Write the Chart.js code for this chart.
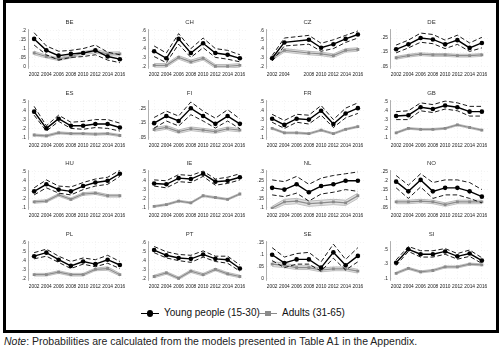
<!DOCTYPE html>
<html><head><meta charset="utf-8">
<script src="https://cdn.jsdelivr.net/npm/chart.js@4/dist/chart.umd.min.js"></script>
<style>
body{margin:0;background:#fff;width:500px;height:350px;position:relative;overflow:hidden;font-family:'Liberation Sans',Arial,sans-serif;}
#frame{position:absolute;left:3px;top:0;width:490px;height:327px;border:3px solid #000;}
canvas{position:absolute;}
.leg{position:absolute;top:306px;font-size:10px;color:#111;line-height:14px;white-space:nowrap;}
.sym{position:absolute;top:7px;height:0;border-top:1.5px solid #000;width:18px;}
.dot{position:absolute;top:-3.8px;left:5.5px;width:6.5px;height:6.5px;border-radius:50%;background:#000;}
.sq{position:absolute;top:-3.2px;left:6px;width:5.5px;height:5.5px;background:#8a8a8a;}
#note{position:absolute;left:4px;top:335px;font-size:10.5px;color:#222;white-space:nowrap;}
</style></head>
<body>
<div id="frame"></div>
<div class="leg" style="left:141px"><span class="sym" style="left:0"><span class="dot"></span></span><span style="position:absolute;left:23px">Young people (15-30)</span></div>
<div class="leg" style="left:259px"><span class="sym" style="left:0;border-top-color:#8a8a8a"><span class="sq"></span></span><span style="position:absolute;left:23px">Adults (31-65)</span></div>
<div id="note"><i>Note</i>: Probabilities are calculated from the models presented in Table A1 in the Appendix.</div>
<script>
const years = ['2002','2004','2006','2008','2010','2012','2014','2016'];
const yearsCZ = ['2002','2004','','2008','2010','2012','2014','2016'];

const BE_ticks = [0,.05,.1,.15,.2];
const BE_young = [.155,.09,.06,.07,.075,.09,.055,.04];
const BE_youngHi = [.19,.115,.085,.09,.1,.12,.08,.065];
const BE_youngLo = [.12,.065,.035,.05,.055,.065,.035,.02];
const BE_adult = [.075,.055,.04,.055,.075,.085,.07,.07];
const BE_adultHi = [.085,.063,.048,.064,.084,.095,.08,.082];
const BE_adultLo = [.065,.047,.032,.046,.066,.075,.06,.058];

const CH_ticks = [.2,.3,.4,.5,.6];
const CH_young = [.37,.29,.51,.35,.46,.35,.33,.29];
const CH_youngHi = [.43,.35,.57,.40,.52,.40,.38,.33];
const CH_youngLo = [.31,.24,.45,.30,.41,.30,.28,.25];
const CH_adult = [.21,.21,.30,.25,.29,.20,.20,.21];
const CH_adultHi = [.23,.23,.32,.27,.31,.22,.22,.23];
const CH_adultLo = [.19,.19,.28,.23,.27,.18,.18,.19];

const CZ_ticks = [.2,.3,.4,.5,.6];
const CZ_young = [.29,.47,null,.50,.41,.45,.51,.56];
const CZ_youngHi = [.32,.52,null,.55,.46,.50,.55,.60];
const CZ_youngLo = [.26,.43,null,.45,.37,.40,.47,.52];
const CZ_adult = [.29,.38,null,.35,.34,.32,.38,.39];
const CZ_adultHi = [.31,.40,null,.37,.36,.34,.40,.41];
const CZ_adultLo = [.27,.36,null,.33,.32,.30,.36,.37];

const DE_ticks = [.05,.1,.15,.2,.25,.3];
const DE_young = [.17,.205,.25,.24,.205,.235,.18,.215];
const DE_youngHi = [.20,.235,.285,.275,.235,.27,.215,.255];
const DE_youngLo = [.145,.18,.22,.21,.175,.205,.155,.18];
const DE_adult = [.11,.125,.135,.13,.13,.125,.125,.13];
const DE_adultHi = [.12,.135,.145,.14,.14,.135,.135,.14];
const DE_adultLo = [.10,.115,.125,.12,.12,.115,.115,.12];

const ES_ticks = [.1,.2,.3,.4,.5];
const ES_young = [.39,.20,.31,.23,.23,.25,.25,.21];
const ES_youngHi = [.45,.23,.35,.27,.28,.30,.30,.26];
const ES_youngLo = [.35,.17,.28,.20,.19,.21,.20,.17];
const ES_adult = [.125,.115,.15,.14,.14,.135,.14,.12];
const ES_adultHi = [.137,.127,.162,.152,.152,.147,.152,.132];
const ES_adultLo = [.113,.103,.138,.128,.128,.123,.128,.108];

const FI_ticks = [.05,.1,.15,.2,.25,.3];
const FI_young = [.15,.20,.165,.255,.20,.145,.20,.145];
const FI_youngHi = [.19,.235,.20,.30,.235,.185,.245,.18];
const FI_youngLo = [.115,.165,.13,.21,.165,.115,.165,.11];
const FI_adult = [.105,.12,.09,.11,.10,.09,.11,.10];
const FI_adultHi = [.118,.133,.102,.123,.113,.102,.123,.112];
const FI_adultLo = [.092,.107,.078,.097,.087,.078,.097,.088];

const FR_ticks = [.1,.2,.3,.4,.5];
const FR_young = [.31,.24,.31,.30,.40,.25,.37,.43];
const FR_youngHi = [.36,.29,.36,.35,.46,.30,.43,.49];
const FR_youngLo = [.27,.20,.27,.25,.35,.21,.32,.37];
const FR_adult = [.20,.15,.15,.14,.18,.14,.19,.22];
const FR_adultHi = [.21,.16,.16,.15,.19,.15,.20,.23];
const FR_adultLo = [.19,.14,.14,.13,.17,.13,.18,.21];

const GB_ticks = [.1,.2,.3,.4,.5];
const GB_young = [.34,.35,.44,.42,.46,.44,.39,.39];
const GB_youngHi = [.39,.40,.49,.47,.51,.49,.45,.45];
const GB_youngLo = [.30,.30,.40,.38,.42,.40,.34,.34];
const GB_adult = [.15,.20,.19,.19,.20,.24,.21,.18];
const GB_adultHi = [.16,.21,.20,.20,.21,.25,.22,.19];
const GB_adultLo = [.14,.19,.18,.18,.19,.23,.20,.17];

const HU_ticks = [.1,.2,.3,.4,.5];
const HU_young = [.28,.36,.30,.28,.34,.38,.40,.48];
const HU_youngHi = [.32,.41,.34,.33,.38,.42,.44,.52];
const HU_youngLo = [.24,.32,.26,.24,.30,.34,.36,.45];
const HU_adult = [.16,.17,.24,.19,.25,.26,.23,.23];
const HU_adultHi = [.175,.185,.255,.205,.265,.275,.245,.245];
const HU_adultLo = [.145,.155,.225,.175,.235,.245,.215,.215];

const IE_ticks = [.1,.2,.3,.4,.5];
const IE_young = [.37,.36,.43,.42,.48,.39,.40,.44];
const IE_youngHi = [.41,.40,.47,.46,.51,.42,.44,.48];
const IE_youngLo = [.34,.32,.39,.38,.45,.35,.37,.41];
const IE_adult = [.11,.13,.17,.15,.23,.21,.19,.25];
const IE_adultHi = [.12,.14,.18,.16,.24,.22,.20,.26];
const IE_adultLo = [.10,.12,.16,.14,.22,.20,.18,.24];

const NL_ticks = [.1,.15,.2,.25,.3];
const NL_young = [.21,.20,.23,.185,.22,.23,.25,.25];
const NL_youngHi = [.255,.245,.275,.23,.265,.28,.29,.30];
const NL_youngLo = [.17,.16,.18,.135,.175,.185,.20,.19];
const NL_adult = [.095,.13,.135,.12,.125,.13,.125,.165];
const NL_adultHi = [.105,.145,.15,.135,.14,.145,.14,.18];
const NL_adultLo = [.085,.115,.12,.105,.11,.115,.11,.15];

const NO_ticks = [.05,.1,.15,.2,.25];
const NO_young = [.195,.14,.205,.14,.16,.16,.14,.11];
const NO_youngHi = [.23,.175,.24,.19,.205,.205,.19,.15];
const NO_youngLo = [.16,.10,.165,.10,.12,.12,.10,.075];
const NO_adult = [.08,.08,.085,.08,.065,.08,.08,.08];
const NO_adultHi = [.09,.09,.095,.09,.075,.09,.09,.09];
const NO_adultLo = [.07,.07,.075,.07,.055,.07,.07,.07];

const PL_ticks = [.2,.3,.4,.5,.6];
const PL_young = [.45,.49,.41,.34,.39,.36,.41,.35];
const PL_youngHi = [.49,.53,.45,.39,.43,.41,.46,.39];
const PL_youngLo = [.42,.45,.38,.31,.36,.33,.37,.31];
const PL_adult = [.24,.24,.27,.24,.24,.30,.31,.24];
const PL_adultHi = [.255,.255,.285,.255,.255,.315,.33,.255];
const PL_adultLo = [.225,.225,.255,.225,.225,.285,.29,.225];

const PT_ticks = [.2,.3,.4,.5,.6];
const PT_young = [.52,.46,.43,.42,.47,.42,.41,.31];
const PT_youngHi = [.56,.50,.47,.46,.51,.45,.45,.35];
const PT_youngLo = [.49,.43,.40,.38,.44,.39,.37,.28];
const PT_adult = [.22,.26,.20,.28,.24,.30,.25,.22];
const PT_adultHi = [.235,.275,.215,.295,.255,.315,.265,.235];
const PT_adultLo = [.205,.245,.185,.265,.225,.285,.235,.205];

const SE_ticks = [0,.05,.1,.15];
const SE_young = [.10,.065,.08,.08,.045,.11,.055,.095];
const SE_youngHi = [.13,.09,.105,.11,.07,.145,.08,.13];
const SE_youngLo = [.075,.045,.06,.06,.03,.085,.035,.07];
const SE_adult = [.06,.055,.045,.045,.035,.04,.04,.03];
const SE_adultHi = [.07,.065,.053,.053,.043,.048,.048,.038];
const SE_adultLo = [.05,.045,.037,.037,.027,.032,.032,.022];

const SI_ticks = [.1,.2,.3,.4,.5,.6];
const SI_young = [.32,.51,.44,.44,.48,.41,.45,.35];
const SI_youngHi = [.36,.55,.49,.49,.52,.45,.50,.39];
const SI_youngLo = [.28,.48,.40,.40,.44,.37,.41,.31];
const SI_adult = [.17,.24,.19,.21,.26,.26,.30,.29];
const SI_adultHi = [.185,.255,.205,.225,.275,.275,.315,.305];
const SI_adultLo = [.155,.225,.175,.195,.245,.245,.285,.275];

const panels = [
  ['BE',years,BE_ticks,BE_young,BE_youngHi,BE_youngLo,BE_adult,BE_adultHi,BE_adultLo],
  ['CH',years,CH_ticks,CH_young,CH_youngHi,CH_youngLo,CH_adult,CH_adultHi,CH_adultLo],
  ['CZ',yearsCZ,CZ_ticks,CZ_young,CZ_youngHi,CZ_youngLo,CZ_adult,CZ_adultHi,CZ_adultLo],
  ['DE',years,DE_ticks,DE_young,DE_youngHi,DE_youngLo,DE_adult,DE_adultHi,DE_adultLo],
  ['ES',years,ES_ticks,ES_young,ES_youngHi,ES_youngLo,ES_adult,ES_adultHi,ES_adultLo],
  ['FI',years,FI_ticks,FI_young,FI_youngHi,FI_youngLo,FI_adult,FI_adultHi,FI_adultLo],
  ['FR',years,FR_ticks,FR_young,FR_youngHi,FR_youngLo,FR_adult,FR_adultHi,FR_adultLo],
  ['GB',years,GB_ticks,GB_young,GB_youngHi,GB_youngLo,GB_adult,GB_adultHi,GB_adultLo],
  ['HU',years,HU_ticks,HU_young,HU_youngHi,HU_youngLo,HU_adult,HU_adultHi,HU_adultLo],
  ['IE',years,IE_ticks,IE_young,IE_youngHi,IE_youngLo,IE_adult,IE_adultHi,IE_adultLo],
  ['NL',years,NL_ticks,NL_young,NL_youngHi,NL_youngLo,NL_adult,NL_adultHi,NL_adultLo],
  ['NO',years,NO_ticks,NO_young,NO_youngHi,NO_youngLo,NO_adult,NO_adultHi,NO_adultLo],
  ['PL',years,PL_ticks,PL_young,PL_youngHi,PL_youngLo,PL_adult,PL_adultHi,PL_adultLo],
  ['PT',years,PT_ticks,PT_young,PT_youngHi,PT_youngLo,PT_adult,PT_adultHi,PT_adultLo],
  ['SE',years,SE_ticks,SE_young,SE_youngHi,SE_youngLo,SE_adult,SE_adultHi,SE_adultLo],
  ['SI',years,SI_ticks,SI_young,SI_youngHi,SI_youngLo,SI_adult,SI_adultHi,SI_adultLo]
];

Chart.defaults.font.family = "'Liberation Sans', Arial, sans-serif";
const colLeft = [28,148,266,390];
const rowTitle = [23,94,164,235];
const plotW = 99, yW = 16, xH = 11;
const fmt = v => v === 0 ? '0' : String(v).replace(/^0\./, '.');

panels.forEach((p, i) => {
  const [name, labels, ticks, young, yHi, yLo, adult, aHi, aLo] = p;
  const c = i % 4, r = Math.floor(i / 4);
  const cv = document.createElement('canvas');
  const W = yW + plotW + 3, H = 61;
  cv.width = W; cv.height = H;
  cv.style.left = (colLeft[c] - yW) + 'px';
  cv.style.top = (rowTitle[r] - 5) + 'px';
  cv.style.width = W + 'px'; cv.style.height = H + 'px';
  document.body.appendChild(cv);
  const tmin = ticks[0], tmax = ticks[ticks.length - 1], pad = (tmax - tmin) * 0.05;
  const gridCfg = {color: 'rgba(0,0,0,0.09)', lineWidth: 0.6, drawTicks: false};
  new Chart(cv, {
    type: 'line',
    data: {labels, datasets: [
      {data: aLo, borderColor: '#a3a3a3', borderWidth: 0.7, pointRadius: 0, fill: false, order: 5},
      {data: aHi, borderColor: '#a3a3a3', borderWidth: 0.7, pointRadius: 0, fill: '-1', backgroundColor: 'rgba(200,200,200,0.55)', order: 4},
      {data: adult, borderColor: '#8c8c8c', borderWidth: 1.2, pointStyle: 'rect', pointRadius: 2, pointBackgroundColor: '#8a8a8a', pointBorderColor: '#8a8a8a', pointBorderWidth: 0, fill: false, order: 3},
      {data: yLo, borderColor: '#000', borderWidth: 0.9, borderDash: [4.5, 2.5], pointRadius: 0, fill: false, order: 2},
      {data: yHi, borderColor: '#000', borderWidth: 0.9, borderDash: [4.5, 2.5], pointRadius: 0, fill: false, order: 1},
      {data: young, borderColor: '#000', borderWidth: 1.4, pointRadius: 2.3, pointBackgroundColor: '#000', pointBorderColor: '#000', pointBorderWidth: 0, fill: false, order: 0}
    ]},
    options: {
      responsive: false, animation: false, spanGaps: true,
      layout: {padding: {left: 0, right: 3, top: 0, bottom: 0}},
      plugins: {
        legend: {display: false}, tooltip: {enabled: false},
        title: {display: true, text: name, color: '#333', font: {size: 6, weight: 'normal'}, padding: {top: 1, bottom: 3}}
      },
      scales: {
        x: {offset: true, grid: {...gridCfg, offset: false}, border: {display: false, dash: [1, 2]},
            ticks: {font: {size: 4.8}, color: '#1a1a1a', maxRotation: 0, minRotation: 0, autoSkip: false, padding: 4},
            afterFit: s => { s.height = xH; }},
        y: {min: tmin - pad, max: tmax + pad,
            afterBuildTicks: a => { a.ticks = ticks.map(v => ({value: v})); },
            grid: gridCfg, border: {display: true, color: '#9a9a9a', width: 0.8, dash: [1, 2]},
            ticks: {font: {size: 4.8}, color: '#1a1a1a', padding: 2, callback: v => fmt(v)},
            afterFit: s => { s.width = yW; }}
      }
    }
  });
});
</script>
</body></html>
